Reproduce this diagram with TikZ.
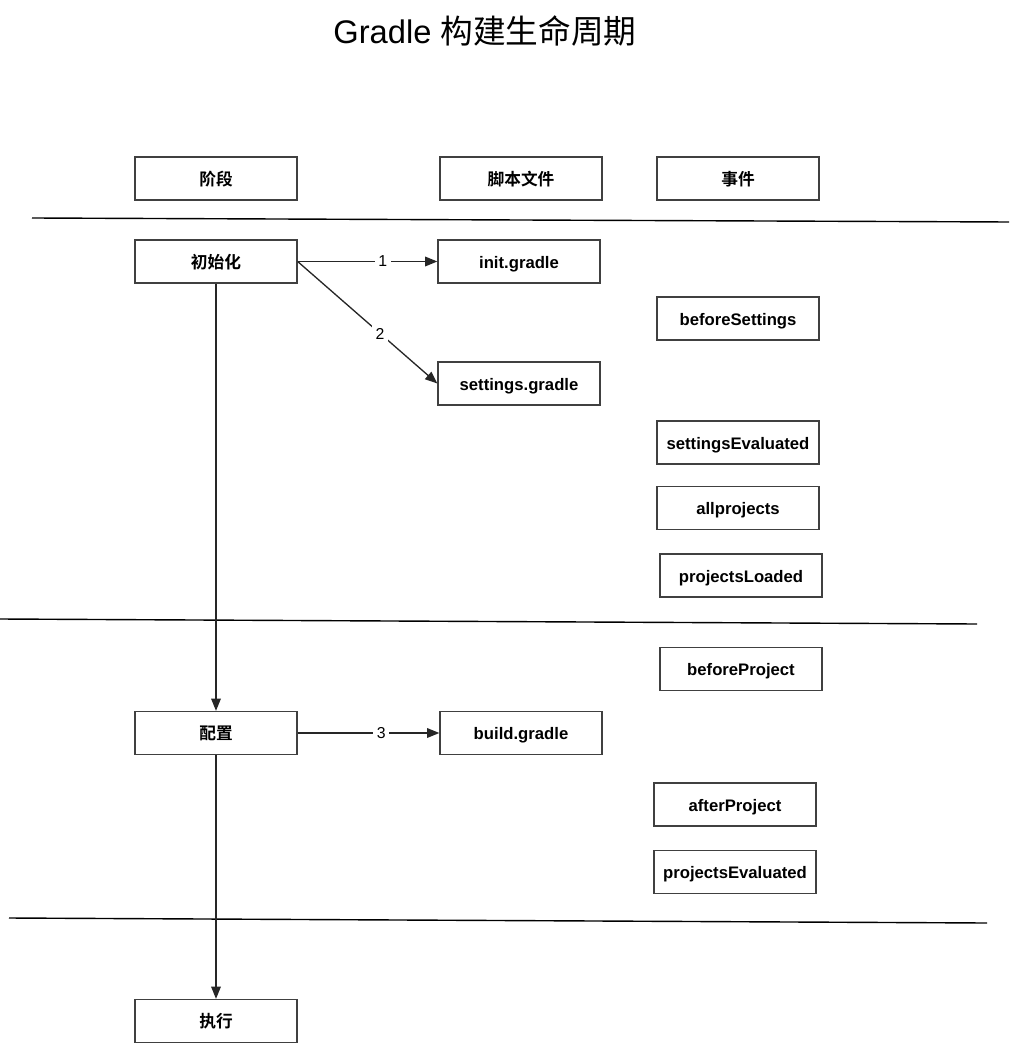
\documentclass[tikz,border=0pt]{standalone}
\usepackage{fontspec}
\setmainfont{Liberation Sans}
\newfontfamily\cjk{Noto Sans CJK SC}[BoldFont={Noto Sans CJK SC Bold}]
\usetikzlibrary{arrows.meta}
\tikzset{
  box/.style = {draw = black!75, line width = 0.75pt, minimum width = 3.24cm, minimum height = 0.86cm, inner sep = 0pt, text height = 0.85em, text depth = 0.1em, font = \fontsize{9.5}{11}\selectfont\bfseries},
  flow/.style = {draw = black!85, line width = 0.75pt, -{Triangle[length = 7pt, width = 5.5pt]}},
  num/.style = {fill = white, inner sep = 2pt, font = \fontsize{9}{11}\selectfont},
  sep/.style = {draw = black, line width = 0.8pt}
}
\begin{document}
\begin{tikzpicture}[x = 0.02cm, y = -0.02cm]
\useasboundingbox (0,0) rectangle (1011,1043);
\node[font = \fontsize{18.6}{22}\selectfont] (title) at (485,31) {Gradle {\cjk 构建生命周期}};
% header row
\node[box] (phase) at (216,178.5) {\cjk 阶段};
\node[box] (script) at (521,178.5) {\cjk 脚本文件};
\node[box] (event) at (738,178.5) {\cjk 事件};
\draw[sep] (32,218) -- (1009,222);
% initialization
\node[box] (init) at (216,261.5) {\cjk 初始化};
\node[box] (initGradle) at (519,261.5) {init.gradle};
\node[box] (settingsGradle) at (519,383.5) {settings.gradle};
\node[box] (beforeSettings) at (738,318.5) {beforeSettings};
\node[box] (settingsEvaluated) at (738,442.5) {settingsEvaluated};
\node[box] (allprojects) at (738,508) {allprojects};
\node[box] (projectsLoaded) at (741,575.5) {projectsLoaded};
\draw[sep] (0,619) -- (977,624);
% configuration
\node[box] (config) at (216,733) {\cjk 配置};
\node[box] (buildGradle) at (521,733) {build.gradle};
\node[box] (beforeProject) at (741,669) {beforeProject};
\node[box] (afterProject) at (735,804.5) {afterProject};
\node[box] (projectsEvaluated) at (735,872) {projectsEvaluated};
\draw[sep] (9,918) -- (987,923);
% execution
\node[box] (exec) at (216,1021) {\cjk 执行};
\draw[flow] (init.east) -- node[num, pos = 0.61] {1} (initGradle.west);
\draw[flow] (init.east) -- node[num, pos = 0.59] {2} (settingsGradle.west);
\draw[flow] (config.east) -- node[num, pos = 0.59] {3} (buildGradle.west);
\draw[flow] (init.south) -- (config.north);
\draw[flow] (config.south) -- (exec.north);
\end{tikzpicture}
\end{document}
